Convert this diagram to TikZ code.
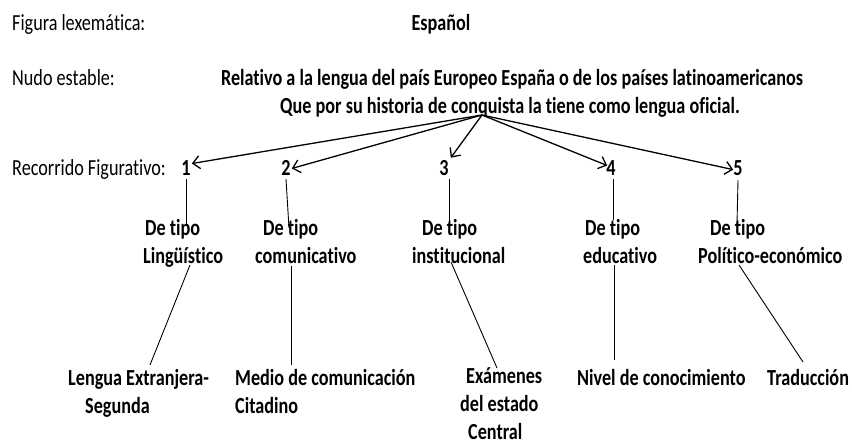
\documentclass[tikz,border=0pt]{standalone}
\usepackage{fontspec}
\setmainfont{Carlito}[FakeStretch=0.79,Ligatures=NoCommon]
\usetikzlibrary{arrows.meta}
\begin{document}
\begin{tikzpicture}[x=1pt,y=-1pt,
  lab/.style={font=\fontsize{23}{28}\selectfont, inner sep=0pt, anchor=base west},
  bl/.style={font=\fontsize{23}{28}\selectfont\bfseries, inner sep=0pt, anchor=base},
  bll/.style={font=\fontsize{23}{28}\selectfont\bfseries, inner sep=0pt, anchor=base west, align=left},
  arr/.style={line width=1.3pt, -{Straight Barb[length=7pt,width=13pt]}},
  ln/.style={line width=0.9pt}]
\useasboundingbox (0,0) rectangle (852,445);
% left labels
\node[lab] (fl) at (12,30) {Figura lexemática:};
\node[lab] (ne) at (12,85) {Nudo estable:};
\node[lab] (rf) at (12,175) {Recorrido Figurativo:};
% header texts
\node[bl] (esp) at (441,30) {Español};
\node[bl] (r1) at (512,85) {Relativo a la lengua del país Europeo España o de los países latinoamericanos};
\node[bl] (r2) at (510,113) {Que por su historia de conquista la tiene como lengua oficial.};
\coordinate (hub) at (482,115);
% numbers
\node[bl] (n1) at (186,175) {1};
\node[bl] (n2) at (286,175) {2};
\node[bl] (n3) at (444,175) {3};
\node[bl] (n4) at (611,175) {4};
\node[bl] (n5) at (738,175) {5};
\draw[arr] (hub) -- ([xshift=1pt,yshift=4pt]n1.east);
\draw[arr] (hub) -- ([xshift=1pt,yshift=-1pt]n2.east);
\draw[arr] (hub) -- ([xshift=2pt,yshift=2pt]n3.north east);
\draw[arr] (hub) -- ([xshift=1pt,yshift=2pt]n4.west);
\draw[arr] (hub) -- ([xshift=0pt,yshift=-2pt]n5.west);
% type texts
\node[bll] (t1) at (143,263) {\hspace*{2pt}De tipo\\Lingüístico};
\node[bll] (t2) at (255,263) {\hspace*{8pt}De tipo\\comunicativo};
\node[bll] (t3) at (412,263) {\hspace*{10pt}De tipo\\institucional};
\node[bll] (t4) at (583,263) {\hspace*{2pt}De tipo\\educativo};
\node[bll] (t5) at (698,263) {\hspace*{12pt}De tipo\\Político-económico};
% vertical line ends
\coordinate (a1) at (186,226);
\coordinate (a2) at (289,228);
\coordinate (a3) at (449,224);
\coordinate (a4) at (613,220);
\coordinate (a5) at (737,224);
\draw[ln] (n1.south |- 0,179) -- (a1);
\draw[ln] (n2.south |- 0,179) -- (a2);
\draw[ln] ([xshift=5pt]n3.south |- 0,179) -- (a3);
\draw[ln] ([xshift=2pt]n4.south |- 0,179) -- (a4);
\draw[ln] (n5.south |- 0,180) -- (a5);
% bottom labels
\node[bll] (b1) at (68,413) {Lengua Extranjera-\\\hspace*{17pt}Segunda};
\node[bll] (b2) at (235,413) {Medio de comunicación\\Citadino};
\node[bll] (b3) at (460,439) {\hspace*{6pt}Exámenes\\del estado\\\hspace*{8pt}Central};
\node[bll] (b4) at (577,385) {Nivel de conocimiento};
\node[bll] (b5) at (767,385) {Traducción};
% lower connectors
\coordinate (c1) at (190,265); \coordinate (d1) at (150,365);
\coordinate (c2) at (291,266); \coordinate (d2) at (291,365);
\coordinate (c3) at (451,262); \coordinate (d3) at (497,368);
\coordinate (c4) at (614,265); \coordinate (d4) at (614,360);
\coordinate (c5) at (739,265); \coordinate (d5) at (803,362);
\draw[ln] (c1) -- (d1);
\draw[ln] (c2) -- (d2);
\draw[ln] (c3) -- (d3);
\draw[ln] (c4) -- (d4);
\draw[ln] (c5) -- (d5);
\end{tikzpicture}
\end{document}
